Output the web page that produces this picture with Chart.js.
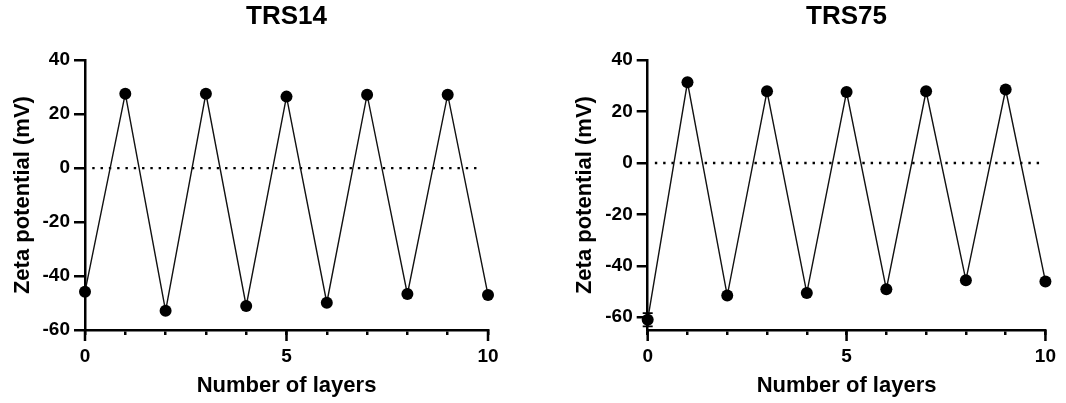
<!DOCTYPE html>
<html>
<head>
<meta charset="utf-8">
<script src="https://cdn.jsdelivr.net/npm/chart.js@4/dist/chart.umd.min.js"></script>
<style>
  html, body { margin: 0; padding: 0; background: #fff; }
  .panel { position: absolute; top: 0; width: 533px; height: 403px; }
  #p1 { left: 0; }
  #p2 { left: 533px; }
</style>
</head>
<body>
<div class="panel" id="p1"><canvas id="c1"></canvas></div>
<div class="panel" id="p2"><canvas id="c2"></canvas></div>
<script>
// ---- data ----
const layers = [0, 1, 2, 3, 4, 5, 6, 7, 8, 9, 10];
const trs14 = [-45.8, 27.6, -52.9, 27.6, -51.1, 26.5, -49.9, 27.2, -46.7, 27.2, -47.0];
const trs14Err = [0, 0, 0, 0, 0, 0, 0, 0, 0, 0, 0];
const trs75 = [-61.0, 31.4, -51.6, 27.9, -50.6, 27.6, -49.1, 27.9, -45.6, 28.6, -46.1];
const trs75Err = [2.6, 0, 0, 0, 0, 0, 0, 0, 0, 0, 0];
const yTicks = [-60, -40, -20, 0, 20, 40];
const xMajor = [0, 5, 10];
const zeroLineX = [0.18, 9.85];

const FONT = 'Liberation Sans, Arial, Helvetica, sans-serif';

// longer ticks at 0 / 5 / 10 and error bars
const extras = {
    id: 'extras',
    afterDatasetsDraw(chart, args, opts) {
        const { ctx, chartArea } = chart;
        const xs = chart.scales.x, ys = chart.scales.y;
        ctx.save();
        ctx.strokeStyle = '#000';
        ctx.lineWidth = 2.5;
        xMajor.forEach(v => {
            const px = xs.getPixelForValue(v);
            ctx.beginPath(); ctx.moveTo(px, chartArea.bottom); ctx.lineTo(px, chartArea.bottom + 11); ctx.stroke();
        });
        ctx.lineWidth = 1.8;
        (opts.errors || []).forEach((e, i) => {
            if (!e) return;
            const px = xs.getPixelForValue(layers[i]);
            const hi = ys.getPixelForValue(opts.values[i] + e), lo = ys.getPixelForValue(opts.values[i] - e);
            ctx.beginPath();
            ctx.moveTo(px, hi); ctx.lineTo(px, lo);
            ctx.moveTo(px - 5, hi); ctx.lineTo(px + 5, hi);
            ctx.moveTo(px - 5, lo); ctx.lineTo(px + 5, lo);
            ctx.stroke();
        });
        ctx.restore();
    }
};

function makeChart(id, title, values, errors, yMin, yAxisW, rightPad, yTitlePad) {
    return new Chart(document.getElementById(id), {
        type: 'line',
        data: {
            datasets: [{
                data: layers.map((x, i) => ({ x: x, y: values[i] })),
                borderColor: '#111', borderWidth: 1.4,
                pointRadius: 6, pointHoverRadius: 6,
                pointBackgroundColor: '#000', pointBorderWidth: 0,
                tension: 0, clip: false
            }, {
                data: zeroLineX.map(x => ({ x: x, y: 0 })),
                borderColor: '#000', borderWidth: 2.4, borderDash: [2.4, 5.9],
                pointRadius: 0, clip: false
            }]
        },
        options: {
            responsive: true, maintainAspectRatio: false, animation: false,
            layout: { padding: { left: 0, right: rightPad, top: 0, bottom: 0 } },
            plugins: {
                legend: { display: false },
                tooltip: { enabled: false },
                title: {
                    display: true, text: title, color: '#000', fullSize: false,
                    font: { family: FONT, size: 26, weight: 'bold' },
                    padding: { top: 1, bottom: 28 }
                },
                extras: { values: values, errors: errors }
            },
            scales: {
                x: {
                    type: 'linear', min: 0, max: 10,
                    afterFit: s => { s.height = 73; },
                    ticks: {
                        stepSize: 1, color: '#000', padding: 10, maxRotation: 0, autoSkip: false,
                        font: { family: FONT, size: 19, weight: 'bold' },
                        callback: v => (v % 5 === 0 ? v : '')
                    },
                    grid: { drawOnChartArea: false, tickLength: 5, color: '#000', lineWidth: 2.5 },
                    border: { display: true, color: '#000', width: 2.5 },
                    title: {
                        display: true, text: 'Number of layers', color: '#000',
                        font: { family: FONT, size: 22, weight: 'bold' },
                        padding: { top: 0, bottom: 4 }
                    }
                },
                y: {
                    type: 'linear', min: yMin, max: 40,
                    afterFit: s => { s.width = yAxisW; },
                    afterBuildTicks: s => { s.ticks = yTicks.map(v => ({ value: v })); },
                    ticks: { color: '#000', padding: 4, font: { family: FONT, size: 19, weight: 'bold' } },
                    grid: { drawOnChartArea: false, tickLength: 11, color: '#000', lineWidth: 2.5 },
                    border: { display: true, color: '#000', width: 2.5 },
                    title: {
                        display: true, text: 'Zeta potential (mV)', color: '#000',
                        font: { family: FONT, size: 22, weight: 'bold' },
                        padding: { top: yTitlePad, bottom: 0 }
                    }
                }
            }
        },
        plugins: [extras]
    });
}

makeChart('c1', 'TRS14', trs14, trs14Err, -60, 85, 45, 10);
makeChart('c2', 'TRS75', trs75, trs75Err, -65, 114.7, 15, 38.8);
</script>
</body>
</html>
